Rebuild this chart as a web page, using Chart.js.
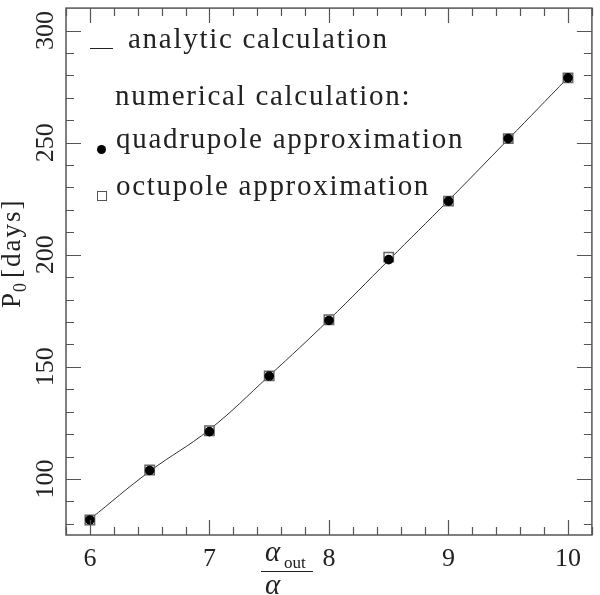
<!DOCTYPE html>
<html>
<head>
<meta charset="utf-8">
<script src="https://cdn.jsdelivr.net/npm/chart.js@4"></script>
<style>
  body { margin: 0; background: #fff; }
  canvas { display: block; }
</style>
</head>
<body>
<canvas id="chart" width="600" height="595"></canvas>
<script>
// ratio a_out / a
const xValues = [6, 6.5, 7, 7.5, 8, 8.5, 9, 9.5, 10];
// P0 in days
const analytic = [82, 103.4, 122, 146, 171, 197.6, 224.2, 251.5, 279];
const quadrupole = [81.7, 103.8, 121.1, 145.9, 170.7, 197.8, 223.9, 251.8, 278.9];
const octupole = [81.7, 104, 121.5, 146, 171, 198.9, 223.9, 251.8, 278.9];

const xMajor = [6, 7, 8, 9, 10];
const yMajor = [100, 150, 200, 250, 300];

const FONT = "Liberation Serif";
const INK = "#222";
const AXIS = "#555";

function pts(ys) {
  return xValues.map((x, i) => ({ x: x, y: ys[i] }));
}

const frameTicks = {
  id: "frameTicks",
  afterDraw(chart) {
    const ctx = chart.ctx;
    const xs = chart.scales.x;
    const ys = chart.scales.y;
    const a = chart.chartArea;
    ctx.save();
    ctx.strokeStyle = AXIS;
    ctx.lineWidth = 1.5;
    ctx.strokeRect(a.left, a.top, a.right - a.left, a.bottom - a.top);

    ctx.lineWidth = 1.2;
    // x ticks, bottom and top
    for (let v = 5.8; v <= 10.21; v += 0.2) {
      const major = Math.abs(v - Math.round(v)) < 0.01;
      const len = major ? 15 : 8;
      const px = Math.round(xs.getPixelForValue(v)) + 0.5;
      ctx.beginPath();
      ctx.moveTo(px, a.bottom);
      ctx.lineTo(px, a.bottom - len);
      ctx.moveTo(px, a.top);
      ctx.lineTo(px, a.top + len);
      ctx.stroke();
    }
    // y ticks, left and right
    for (let v = 80; v <= 300; v += 10) {
      const major = v % 50 === 0;
      const len = major ? 15 : 8;
      const py = Math.round(ys.getPixelForValue(v)) + 0.5;
      ctx.beginPath();
      ctx.moveTo(a.left, py);
      ctx.lineTo(a.left + len, py);
      ctx.moveTo(a.right, py);
      ctx.lineTo(a.right - len, py);
      ctx.stroke();
    }

    // tick labels
    ctx.fillStyle = INK;
    ctx.font = "26px '" + FONT + "'";
    ctx.textAlign = "center";
    ctx.textBaseline = "alphabetic";
    xMajor.forEach(v => {
      ctx.fillText(String(v), xs.getPixelForValue(v), 566);
    });
    yMajor.forEach(v => {
      ctx.save();
      ctx.translate(53, ys.getPixelForValue(v));
      ctx.rotate(-Math.PI / 2);
      ctx.fillText(String(v), 0, 0);
      ctx.restore();
    });

    // y title: P_0 [days]
    ctx.save();
    ctx.translate(20, 308);
    ctx.rotate(-Math.PI / 2);
    ctx.textAlign = "left";
    ctx.font = "27px '" + FONT + "'";
    ctx.fillText("P", 0, 0);
    let w = ctx.measureText("P").width;
    ctx.font = "18px '" + FONT + "'";
    ctx.fillText("0", w + 1, 6);
    w += ctx.measureText("0").width + 6;
    ctx.font = "27px '" + FONT + "'";
    ctx.letterSpacing = "2px";
    ctx.fillText("[days]", w, 0);
    ctx.restore();

    // x title: alpha_out / alpha
    ctx.textAlign = "left";
    ctx.font = "italic 29px '" + FONT + "'";
    ctx.fillText("\u03b1", 265, 561);
    ctx.fillText("\u03b1", 265, 594);
    ctx.font = "17px '" + FONT + "'";
    ctx.fillText("out", 284, 568);
    ctx.strokeStyle = INK;
    ctx.lineWidth = 1;
    ctx.beginPath();
    ctx.moveTo(261, 571.5);
    ctx.lineTo(313, 571.5);
    ctx.stroke();

    // legend
    ctx.font = "29px '" + FONT + "'";
    ctx.letterSpacing = "0px";
    const ref = "quadrupole approximation";
    const natural = ctx.measureText(ref).width;
    const spacing = (348 - natural) / ref.length;
    ctx.letterSpacing = spacing.toFixed(2) + "px";
    ctx.fillStyle = INK;
    ctx.fillText("analytic calculation", 128, 48);
    ctx.fillText("numerical calculation:", 115, 105);
    ctx.fillText("quadrupole approximation", 116, 148);
    ctx.fillText("octupole approximation", 116, 195);

    ctx.strokeStyle = INK;
    ctx.lineWidth = 1;
    ctx.beginPath();
    ctx.moveTo(90, 48.5);
    ctx.lineTo(113, 48.5);
    ctx.stroke();

    ctx.beginPath();
    ctx.arc(101.5, 149.5, 4.5, 0, Math.PI * 2);
    ctx.fillStyle = "#000";
    ctx.fill();

    ctx.strokeStyle = AXIS;
    ctx.strokeRect(97.5, 191.5, 9, 9);
    ctx.restore();
  }
};

new Chart(document.getElementById("chart"), {
  type: "scatter",
  data: {
    datasets: [
      {
        label: "quadrupole approximation",
        data: pts(quadrupole),
        pointStyle: "circle",
        pointRadius: 4.8,
        backgroundColor: "#000",
        borderColor: "#000",
        borderWidth: 0,
        order: 0
      },
      {
        label: "octupole approximation",
        data: pts(octupole),
        pointStyle: "rect",
        pointRadius: 6.6,
        backgroundColor: "#fff",
        borderColor: "#666",
        borderWidth: 1.5,
        order: 1
      },
      {
        label: "analytic calculation",
        data: pts(analytic),
        showLine: true,
        pointRadius: 0,
        borderColor: "#333",
        borderWidth: 1,
        tension: 0.4,
        order: 2
      }
    ]
  },
  options: {
    responsive: false,
    animation: false,
    devicePixelRatio: 1,
    layout: { padding: { left: 66, right: 2, top: 3, bottom: 60 } },
    scales: {
      x: { type: "linear", min: 5.8, max: 10.2, display: false },
      y: { type: "linear", min: 75, max: 310, display: false }
    },
    plugins: {
      legend: { display: false },
      tooltip: { enabled: false }
    }
  },
  plugins: [frameTicks]
});
</script>
</body>
</html>
